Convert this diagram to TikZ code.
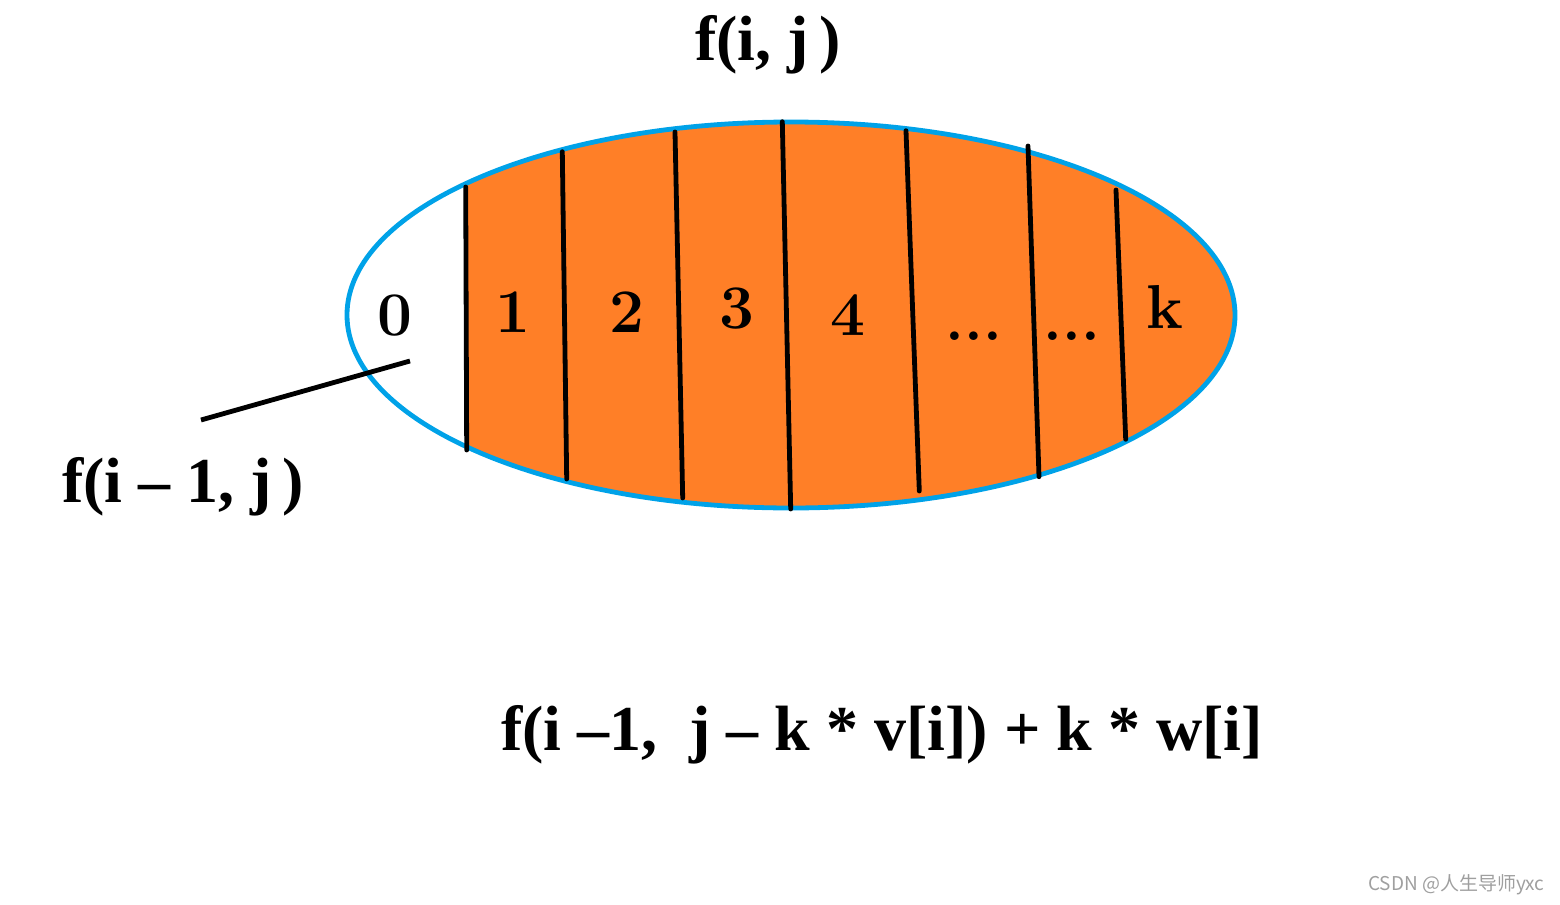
\documentclass[tikz,border=0pt]{standalone}
\usepackage{fontspec}
\usepackage{xcolor}
\usepackage{tikz}
\newfontfamily\timesbf{Liberation Serif}[BoldFont={Liberation Serif Bold}]
\newfontfamily\cjksans{Noto Sans CJK SC}
\definecolor{paintorange}{RGB}{255,127,39}
\definecolor{paintblue}{RGB}{0,162,232}

\begin{document}
\begin{tikzpicture}[
  x=0.5pt, y=-0.5pt,
  part/.style={anchor=base, inner sep=0pt, font=\fontsize{31}{34}\selectfont\bfseries},
  dots/.style={anchor=base, inner sep=0pt, font=\fontsize{30}{32}\selectfont\bfseries},
  formula/.style={inner sep=0pt, font=\timesbf\fontsize{32}{35}\selectfont\bfseries},
  divider/.style={line width=2.4pt, line cap=round},
  leader/.style={line width=2.4pt}
]
  \useasboundingbox (0,0) rectangle (1560,905);

  % filled part of the set
  \begin{scope}
    \clip (465.2,100) -- (467.7,530) -- (1300,530) -- (1300,100) -- cycle;
    \fill[paintorange] (791,315) ellipse [x radius=444, y radius=193];
  \end{scope}
  \draw[paintblue, line width=2.4pt] (791,315) ellipse [x radius=444, y radius=193];

  % dividers
  \draw[divider] (465.7,187) -- (466.7,450);
  \draw[divider] (562.3,151.7) -- (566.7,479);
  \draw[divider] (675,132) -- (682.7,498);
  \draw[divider] (782.3,121.7) -- (790.7,509);
  \draw[divider] (906,130.7) -- (919.3,491);
  \draw[divider] (1028,146) -- (1039,476.7);
  \draw[divider] (1116,190) -- (1125.7,439.3);

  % parts
  \node[part] (p0) at (395,335) {0};
  \node[part] (p1) at (513,332) {1};
  \node[part] (p2) at (627,332.7) {2};
  \node[part] (p3) at (737,328) {3};
  \node[part] (p4) at (848,335) {4};
  \node[dots] (d1) at (974,340) {...};
  \node[dots] (d2) at (1072,340) {...};
  \node[part] (pk) at (1165,328) {k};

  % labels
  \node[formula] (fij) at (768,45) {f(i, j\,)};
  \node[formula] (fprev) at (183,487) {f(i – 1, j\,)};
  \node[formula] (fk) at (882,735) {f(i –1,\ \ j – k * v[i]) + k * w[i]};

  \coordinate (lead0) at (201,420);
  \coordinate (lead1) at (410,361);
  \draw[leader] (lead0) -- (lead1);

  \node[anchor=east, inner sep=0pt, text=gray!75, font=\cjksans\fontsize{9.5}{10}\selectfont] (mark) at (1545,885) {CSDN @人生导师yxc};
\end{tikzpicture}
\end{document}
